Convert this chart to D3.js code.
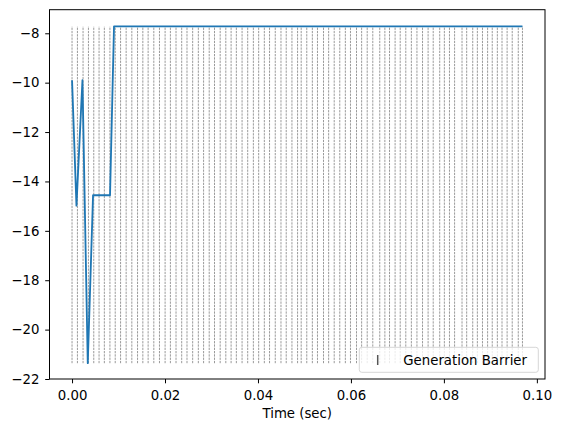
<!DOCTYPE html>
<html>
<head>
<meta charset="utf-8">
<script src="https://cdn.jsdelivr.net/npm/d3@7"></script>
<style>
  body { margin: 0; background: #fff; }
  text { font-family: "DejaVu Sans", sans-serif; }
</style>
</head>
<body>
<svg width="563" height="432"></svg>
<script>
// line series (seconds, value)
var times = [0.0, 0.00095, 0.00224, 0.00338, 0.00452, 0.00817, 0.00903, 0.0969];
var values = [-9.9, -14.98, -9.9, -21.36, -14.56, -14.56, -7.72, -7.72];

// generation barrier times, ms
var barriers = [0, 1.16, 2.37, 3.53, 4.67, 5.81, 6.95, 8.15, 9.29, 10.44,
  11.64, 12.86, 14.09, 15.23, 16.37, 17.59, 18.81, 20.02, 21.16, 22.37,
  23.59, 24.73, 25.95, 27.17, 28.30, 29.51, 30.65, 31.87, 33.08, 34.22,
  35.35, 36.58, 37.79, 39.01, 40.15, 41.37, 42.49, 43.72, 44.95, 46.08,
  47.31, 48.52, 49.3, 50.5, 51.7, 52.8, 54.1, 55.2, 56.4, 57.6,
  58.8, 59.9, 61.2, 62.3, 63.5, 64.7, 66.2, 67.3, 68.3, 69.5,
  70.6, 71.8, 73.0, 74.2, 75.4, 76.6, 77.7, 79.1, 80.1, 81.2,
  82.3, 83.9, 84.9, 86.2, 87.2, 88.3, 89.4, 90.4, 91.5, 92.5,
  93.6, 94.7, 96.0, 96.9];

var xTicks = [0, 0.02, 0.04, 0.06, 0.08, 0.10];
var yTicks = [-22, -20, -18, -16, -14, -12, -10, -8];

var svg = d3.select("svg");
var mLeft = 49.5, mRight = 545, mTop = 9.7, mBottom = 379;
var fs = "13.3px";

var x = d3.scaleLinear().domain([-0.00485, 0.10175]).range([mLeft, mRight]);
var y = d3.scaleLinear().domain([-22, -7.045]).range([mBottom, mTop]);

var fmtY = function(d) { return d3.format("d")(d).replace("-", "\u2212"); };

var xAxis = svg.append("g")
    .attr("transform", "translate(0," + mBottom + ")")
    .call(d3.axisBottom(x).tickValues(xTicks).tickFormat(d3.format(".2f")).tickSizeOuter(0).tickSize(4.3).tickPadding(7));
var yAxis = svg.append("g")
    .attr("transform", "translate(" + mLeft + ",0)")
    .call(d3.axisLeft(y).tickValues(yTicks).tickFormat(fmtY).tickSizeOuter(0).tickSize(4.3).tickPadding(5.8));

[xAxis, yAxis].forEach(function(a) {
  a.select(".domain").remove();
  a.selectAll("line").attr("stroke", "#000").attr("stroke-width", 1);
  a.selectAll("text").attr("font-size", fs).attr("fill", "#000")
    .attr("font-family", "DejaVu Sans, sans-serif");
});

// barriers
var ymin = d3.min(values), ymax = d3.max(values);
svg.append("g").selectAll("line")
  .data(barriers)
  .enter().append("line")
    .attr("x1", function(d) { return x(d / 1000); })
    .attr("x2", function(d) { return x(d / 1000); })
    .attr("y1", y(ymin))
    .attr("y2", y(ymax))
    .attr("stroke", "#808080")
    .attr("stroke-width", 0.8)
    .attr("stroke-dasharray", "2.3,1");

var line = d3.line()
    .x(function(d, i) { return x(times[i]); })
    .y(function(d) { return y(d); });

svg.append("path")
    .datum(values)
    .attr("d", line)
    .attr("fill", "none")
    .attr("stroke", "#1f77b4")
    .attr("stroke-width", 1.83)
    .attr("stroke-linejoin", "round");

// frame
svg.append("rect")
    .attr("x", mLeft).attr("y", mTop)
    .attr("width", mRight - mLeft).attr("height", mBottom - mTop)
    .attr("fill", "none").attr("stroke", "#000").attr("stroke-width", 1);

// legend
var lg = svg.append("g");
lg.append("rect")
    .attr("x", 359.3).attr("y", 347.3)
    .attr("width", 179).attr("height", 25)
    .attr("rx", 2.5)
    .attr("fill", "#fff").attr("fill-opacity", 0.8)
    .attr("stroke", "#d6d6d6").attr("stroke-width", 1);
lg.append("line")
    .attr("x1", 377.7).attr("x2", 377.7)
    .attr("y1", 355).attr("y2", 365)
    .attr("stroke", "#555").attr("stroke-width", 1.5);
lg.append("text")
    .attr("x", 403.3).attr("y", 364.5)
    .attr("font-size", fs)
    .text("Generation Barrier");

svg.append("text")
    .attr("x", (mLeft + mRight) / 2).attr("y", 417.5)
    .attr("text-anchor", "middle")
    .attr("font-size", fs)
    .text("Time (sec)");
</script>
</body>
</html>
